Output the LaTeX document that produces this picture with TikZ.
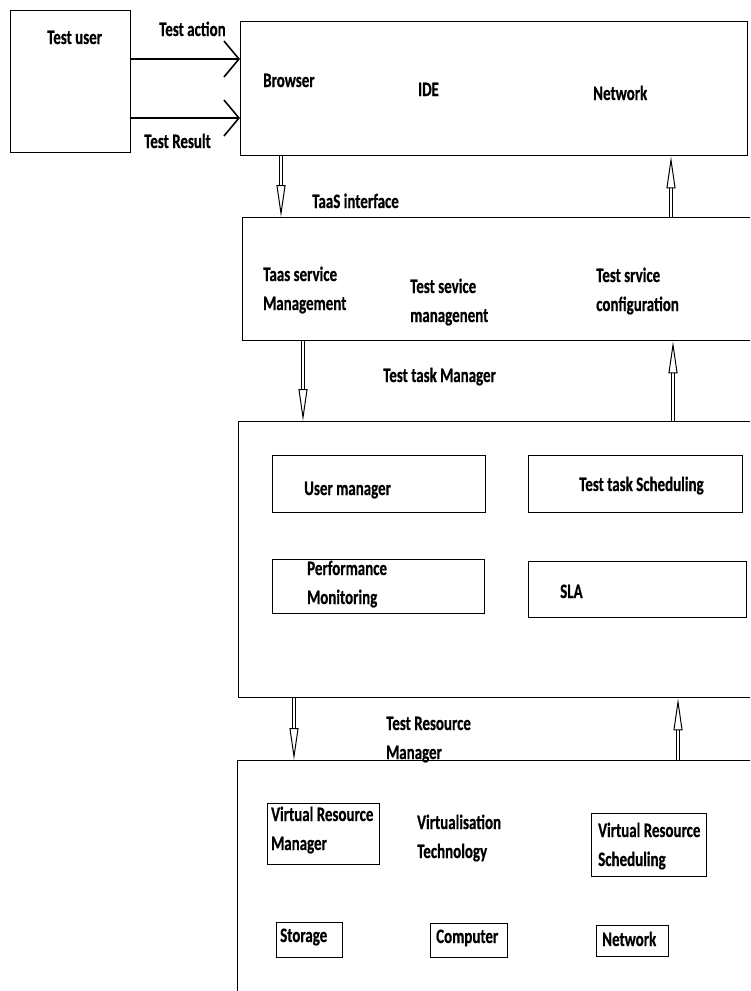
\documentclass[tikz,border=0pt]{standalone}
\usepackage{fontspec}
\newfontfamily\lblfont[FakeStretch=0.73, FakeBold=0.6]{Carlito Bold}
\usetikzlibrary{arrows.meta}
\tikzset{
  box/.style={draw, line width=1.4pt, inner sep=0pt, anchor=north west},
  lbl/.style={inner sep=0pt, anchor=base west, align=left, font=\lblfont\fontsize{20.5}{29}\selectfont},
  flow/.style={line width=1.6pt, -{Straight Barb[length=15pt, width=36pt, line width=1.6pt]}},
  hollow/.style={double, double distance=2.6pt, line width=0.9pt, -{Triangle[open, length=32pt, width=9pt, line width=1pt]}}
}
\begin{document}
\begin{tikzpicture}[x=1pt, y=-1pt]
\useasboundingbox (0,0) rectangle (750,991);
\clip (0,0) rectangle (750,991);
\fill[white] (0,0) rectangle (750,991);
% boxes
\node[box, minimum width=120pt, minimum height=142pt] (user) at (10,10) {};
\node[box, minimum width=507pt, minimum height=134pt] (top) at (240,21) {};
\node[box, minimum width=530pt, minimum height=123pt] (svc) at (242,217) {};
\node[box, minimum width=530pt, minimum height=276pt] (task) at (238,421) {};
\node[box, minimum width=530pt, minimum height=260pt] (res) at (237,760) {};
\node[box, minimum width=213pt, minimum height=57pt] (um) at (272,455) {};
\node[box, minimum width=214pt, minimum height=57pt] (tts) at (528,455) {};
\node[box, minimum width=212pt, minimum height=54pt] (pm) at (272,559) {};
\node[box, minimum width=218pt, minimum height=56pt] (sla) at (528,561) {};
\node[box, minimum width=112pt, minimum height=61pt] (vrm) at (267,803) {};
\node[box, minimum width=115pt, minimum height=63pt] (vrs) at (591,813) {};
\node[box, minimum width=66pt, minimum height=35pt] (sto) at (276,922) {};
\node[box, minimum width=77pt, minimum height=34pt] (comp) at (430,923) {};
\node[box, minimum width=72pt, minimum height=31pt] (net) at (596,925) {};
% labels (multi-line labels are placed by the baseline of their last line)
\node[lbl] (tuser) at (47,44) {Test user};
\node[lbl] (tact) at (159,36) {Test action};
\node[lbl] (tres) at (144,148) {Test Result};
\node[lbl] (tbrowser) at (263,87) {Browser};
\node[lbl] (tide) at (418,96) {IDE};
\node[lbl] (tnet) at (593,100) {Network};
\node[lbl] (ttaas) at (312,208) {TaaS interface};
\node[lbl] (tsm) at (263,310) {Taas service\\Management};
\node[lbl] (tsvm) at (410,322) {Test sevice\\managenent};
\node[lbl] (tsc) at (596,311) {Test srvice\\configuration};
\node[lbl] (ttm) at (383,382) {Test task Manager};
\node[lbl] (tum) at (304,495) {User manager};
\node[lbl] (ttts) at (579,491) {Test task Scheduling};
\node[lbl] (tpm) at (307,604) {Performance\\Monitoring};
\node[lbl] (tsla) at (560,598) {SLA};
\node[lbl] (trm) at (386,759) {Test Resource\\Manager};
\node[lbl] (tvrm) at (271,850) {Virtual Resource\\Manager};
\node[lbl] (tvt) at (417,858) {Virtualisation\\Technology};
\node[lbl] (tvrs) at (598,866) {Virtual Resource\\Scheduling};
\node[lbl] (tsto) at (280,942) {Storage};
\node[lbl] (tcomp) at (436,943) {Computer};
\node[lbl] (tnetb) at (602,946) {Network};
% connectors
\draw[flow] (user.east |- 0,59) -- (top.west |- 0,59);
\draw[flow] (user.east |- 0,118) -- (top.west |- 0,118);
\draw[hollow] (top.south -| 281,0) -- (svc.north -| 281,0);
\draw[hollow] (svc.north -| 671,0) -- (top.south -| 671,0);
\draw[hollow] (svc.south -| 303,0) -- (task.north -| 303,0);
\draw[hollow] (task.north -| 673,0) -- (svc.south -| 673,0);
\draw[hollow] (task.south -| 294,0) -- (res.north -| 294,0);
\draw[hollow] (res.north -| 678,0) -- (task.south -| 678,0);
\end{tikzpicture}
\end{document}
